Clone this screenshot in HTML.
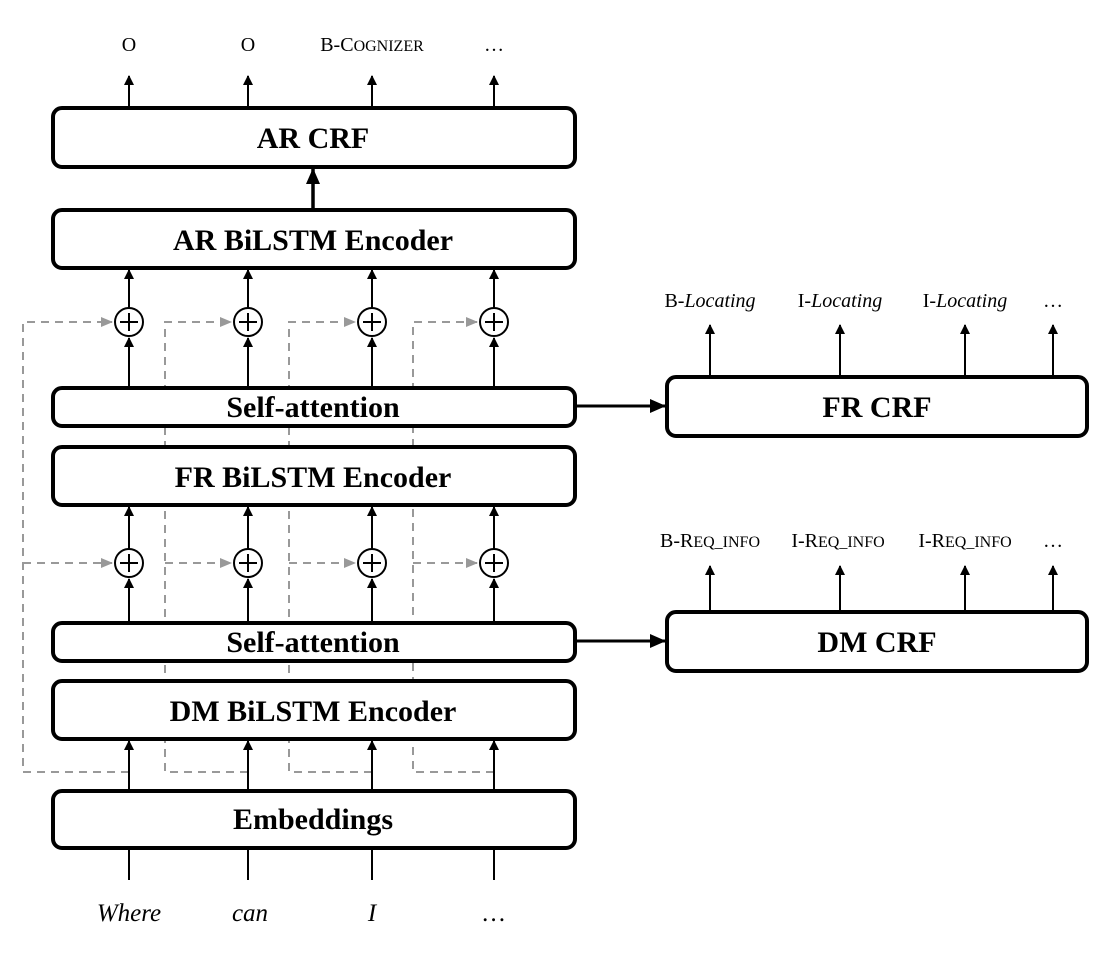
<!DOCTYPE html>
<html><head><meta charset="utf-8"><style>
html,body{margin:0;padding:0;background:#fff;}
svg{display:block;font-family:"Liberation Serif",serif;}
.b{font-weight:bold;font-size:30px;}
.l{font-size:20px;}
</style></head><body>
<svg width="1110" height="960" viewBox="0 0 1110 960" xmlns="http://www.w3.org/2000/svg">
<defs>
<marker id="a" markerWidth="10" markerHeight="12" refX="9" refY="5" orient="auto" markerUnits="userSpaceOnUse"><path d="M0,0 L10,5 L0,10 z" fill="#000"/></marker>
<marker id="ab" markerWidth="16" markerHeight="14" refX="15" refY="7" orient="auto" markerUnits="userSpaceOnUse"><path d="M0,0 L16,7 L0,14 z" fill="#000"/></marker>
<marker id="g" markerWidth="12" markerHeight="12" refX="11" refY="5" orient="auto" markerUnits="userSpaceOnUse"><path d="M0,0 L12,5 L0,10 z" fill="#999"/></marker>
</defs>
<g stroke="#999" stroke-width="2" stroke-dasharray="8,6" fill="none">
<path d="M129 772 H23 V322 H112" marker-end="url(#g)"/>
<path d="M23 563 H112" marker-end="url(#g)"/>
<path d="M248 772 H165 V322 H231" marker-end="url(#g)"/>
<path d="M165 563 H231" marker-end="url(#g)"/>
<path d="M372 772 H289 V322 H355" marker-end="url(#g)"/>
<path d="M289 563 H355" marker-end="url(#g)"/>
<path d="M494 772 H413 V322 H477" marker-end="url(#g)"/>
<path d="M413 563 H477" marker-end="url(#g)"/>
</g>
<g stroke="#000" stroke-width="2" fill="none">
<g id="col">
<line x1="129" y1="880" x2="129" y2="848"/>
<line x1="129" y1="791" x2="129" y2="741" marker-end="url(#a)"/>
<line x1="129" y1="739" x2="129" y2="681"/>
<line x1="129" y1="661" x2="129" y2="623"/>
<line x1="129" y1="623" x2="129" y2="579" marker-end="url(#a)"/>
<line x1="129" y1="549" x2="129" y2="507" marker-end="url(#a)"/>
<line x1="129" y1="505" x2="129" y2="447"/>
<line x1="129" y1="426" x2="129" y2="388"/>
<line x1="129" y1="388" x2="129" y2="338" marker-end="url(#a)"/>
<line x1="129" y1="308" x2="129" y2="270" marker-end="url(#a)"/>
<line x1="129" y1="108" x2="129" y2="76" marker-end="url(#a)"/>
<circle cx="129" cy="322" r="14" fill="#fff"/><path d="M120 322 H138 M129 313 V331"/>
<circle cx="129" cy="563" r="14" fill="#fff"/><path d="M120 563 H138 M129 554 V572"/>
</g>
<use href="#col" x="119"/>
<use href="#col" x="243"/>
<use href="#col" x="365"/>
<line x1="313" y1="210" x2="313" y2="169" stroke-width="3.5" marker-end="url(#ab)"/>
<line x1="575" y1="406" x2="665" y2="406" stroke-width="3" marker-end="url(#ab)"/>
<line x1="575" y1="641" x2="665" y2="641" stroke-width="3" marker-end="url(#ab)"/>
<line x1="710" y1="377" x2="710" y2="325" marker-end="url(#a)"/>
<line x1="840" y1="377" x2="840" y2="325" marker-end="url(#a)"/>
<line x1="965" y1="377" x2="965" y2="325" marker-end="url(#a)"/>
<line x1="1053" y1="377" x2="1053" y2="325" marker-end="url(#a)"/>
<line x1="710" y1="612" x2="710" y2="566" marker-end="url(#a)"/>
<line x1="840" y1="612" x2="840" y2="566" marker-end="url(#a)"/>
<line x1="965" y1="612" x2="965" y2="566" marker-end="url(#a)"/>
<line x1="1053" y1="612" x2="1053" y2="566" marker-end="url(#a)"/>
</g>
<g stroke="#000" stroke-width="4" fill="#fff">
<rect x="53" y="108" width="522" height="59" rx="9"/>
<rect x="53" y="210" width="522" height="58" rx="9"/>
<rect x="53" y="388" width="522" height="38" rx="9"/>
<rect x="53" y="447" width="522" height="58" rx="9"/>
<rect x="53" y="623" width="522" height="38" rx="9"/>
<rect x="53" y="681" width="522" height="58" rx="9"/>
<rect x="53" y="791" width="522" height="57" rx="9"/>
<rect x="667" y="377" width="420" height="59" rx="9"/>
<rect x="667" y="612" width="420" height="59" rx="9"/>
</g>
<g class="b" text-anchor="middle">
<text x="313" y="148">AR CRF</text>
<text x="313" y="250">AR BiLSTM Encoder</text>
<text x="313" y="417">Self-attention</text>
<text x="313" y="487">FR BiLSTM Encoder</text>
<text x="313" y="652">Self-attention</text>
<text x="313" y="721">DM BiLSTM Encoder</text>
<text x="313" y="829">Embeddings</text>
<text x="877" y="417">FR CRF</text>
<text x="877" y="652">DM CRF</text>
</g>
<g class="l" text-anchor="middle">
<text x="129" y="51">O</text>
<text x="248" y="51">O</text>
<text x="372" y="51">B-C<tspan font-size="16">OGNIZER</tspan></text>
<text x="494" y="51">…</text>
<text x="710" y="307">B-<tspan font-style="italic">Locating</tspan></text>
<text x="840" y="307">I-<tspan font-style="italic">Locating</tspan></text>
<text x="965" y="307">I-<tspan font-style="italic">Locating</tspan></text>
<text x="1053" y="307">…</text>
<text x="710" y="547">B-R<tspan font-size="16">EQ_INFO</tspan></text>
<text x="838" y="547">I-R<tspan font-size="16">EQ_INFO</tspan></text>
<text x="965" y="547">I-R<tspan font-size="16">EQ_INFO</tspan></text>
<text x="1053" y="547">…</text>
<g font-size="25" font-style="italic">
<text x="129" y="921">Where</text>
<text x="250" y="921">can</text>
<text x="372" y="921">I</text>
<text x="494" y="921">…</text>
</g>
</g>
</svg>
</body></html>
